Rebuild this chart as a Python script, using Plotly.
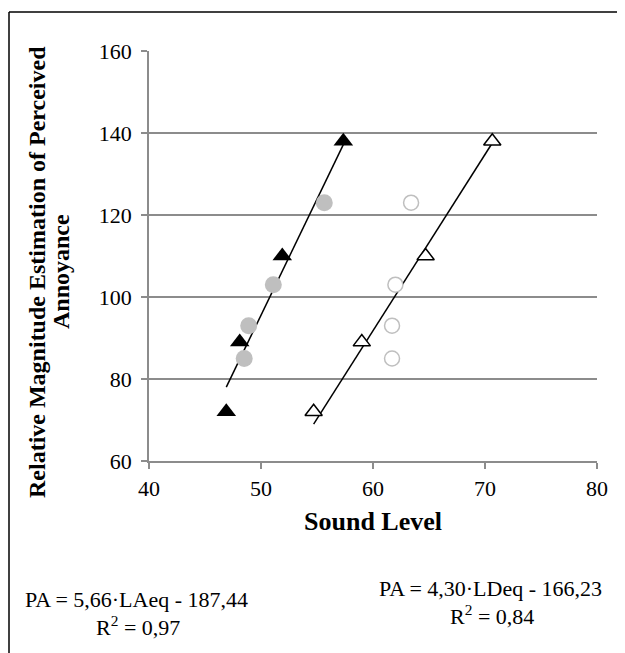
import plotly.graph_objects as go

# Data
laeq_tri_x = [46.9, 48.1, 51.9, 57.35]
laeq_tri_y = [72, 89, 110, 138]
ldeq_tri_x = [54.7, 59.0, 64.7, 70.65]
ldeq_tri_y = [72, 89, 110, 138]
laeq_circ_x = [48.5, 48.9, 51.1, 55.65]
laeq_circ_y = [85, 93, 103, 123]
ldeq_circ_x = [61.7, 61.7, 62.0, 63.4]
ldeq_circ_y = [85, 93, 103, 123]
fit1_slope, fit1_icpt = 5.66, -187.44
fit2_slope, fit2_icpt = 4.30, -166.23
y_ticks = [60, 80, 100, 120, 140, 160]
x_ticks = [40, 50, 60, 70, 80]

OFF = 8  # page body margin
W, H = 625 - OFF, 653 - OFF
# plot area in window pixels: x 149..597, y 51..461
ML = 149 - OFF
MT = 51 - OFF
MR = W - (597 - OFF)
MB = H - (461 - OFF)
PW, PH = W - ML - MR, H - MT - MB

def px2x(px):  # window pixel -> paper x
    return (px - OFF - ML) / PW

def px2y(py):  # window pixel -> paper y
    return (H - MB - (py - OFF)) / PH

FONT = "Liberation Serif"
fig = go.Figure()

def fit_line(xs, m, b):
    xr = [min(xs), max(xs)]
    return xr, [m * v + b for v in xr]

fx1, fy1 = fit_line(laeq_tri_x, fit1_slope, fit1_icpt)
fx2, fy2 = fit_line(ldeq_tri_x, fit2_slope, fit2_icpt)
fig.add_trace(go.Scatter(x=fx1, y=fy1, mode="lines", line=dict(color="black", width=1.5), showlegend=False))
fig.add_trace(go.Scatter(x=fx2, y=fy2, mode="lines", line=dict(color="black", width=1.5), showlegend=False))

fig.add_trace(go.Scatter(x=laeq_circ_x, y=laeq_circ_y, mode="markers",
                         marker=dict(symbol="circle", size=17, color="#bfbfbf", line=dict(width=0)), showlegend=False))
fig.add_trace(go.Scatter(x=ldeq_circ_x, y=ldeq_circ_y, mode="markers",
                         marker=dict(symbol="circle", size=15, color="white", line=dict(width=1.5, color="#bfbfbf")), showlegend=False))
fig.add_trace(go.Scatter(x=laeq_tri_x, y=laeq_tri_y, mode="markers",
                         marker=dict(symbol="triangle-up", size=17, color="black", line=dict(width=0)), showlegend=False))
fig.add_trace(go.Scatter(x=ldeq_tri_x, y=ldeq_tri_y, mode="markers",
                         marker=dict(symbol="triangle-up", size=15, color="white", line=dict(width=1.5, color="black")), showlegend=False))

grid = "#8c8c8c"
fig.update_xaxes(range=[40, 80], tickvals=x_ticks, showgrid=False, zeroline=False,
                 showline=True, linecolor=grid, linewidth=1.5, ticks="outside", ticklen=6,
                 tickcolor=grid, tickwidth=1.5, ticklabelstandoff=1,
                 tickfont=dict(family=FONT, size=22, color="black"))
fig.update_yaxes(range=[60, 160], tickvals=y_ticks, showgrid=True, gridcolor=grid, gridwidth=1.5,
                 zeroline=False, showline=True, linecolor=grid, linewidth=1.5, ticks="outside",
                 ticklen=6, tickcolor=grid, tickwidth=1.5, ticklabelstandoff=5,
                 tickfont=dict(family=FONT, size=22, color="black"))

def text(t, x, y, size, angle=0):
    return dict(text=t, xref="paper", yref="paper", x=px2x(x), y=px2y(y), showarrow=False,
                textangle=angle, align="center", xanchor="center", yanchor="middle", borderpad=0,
                font=dict(family=FONT, size=size, color="black"))

ann = [
    text("<b>Sound Level</b>", 373, 521, 26),
    text("<b>Relative Magnitude Estimation of Perceived</b>", 37, 272, 24, -90),
    text("<b>Annoyance</b>", 61, 272, 24, -90),
    text("PA = 5,66·LAeq - 187,44", 136, 599, 22),
    text("R<sup>2</sup> = 0,97", 138, 626, 22),
    text("PA = 4,30·LDeq - 166,23", 490, 588, 22),
    text("R<sup>2</sup> = 0,84", 492, 615, 22),
]

shapes = [
    dict(type="line", xref="paper", yref="paper", x0=px2x(9), y0=px2y(12), x1=px2x(640), y1=px2y(12),
         line=dict(color="black", width=1.5)),
    dict(type="line", xref="paper", yref="paper", x0=px2x(9), y0=px2y(12), x1=px2x(9), y1=px2y(670),
         line=dict(color="black", width=1.5)),
]

fig.update_layout(width=W, height=H, margin=dict(l=ML, r=MR, t=MT, b=MB),
                  paper_bgcolor="white", plot_bgcolor="white", annotations=ann, shapes=shapes,
                  showlegend=False)
fig.write_html("out.html")
